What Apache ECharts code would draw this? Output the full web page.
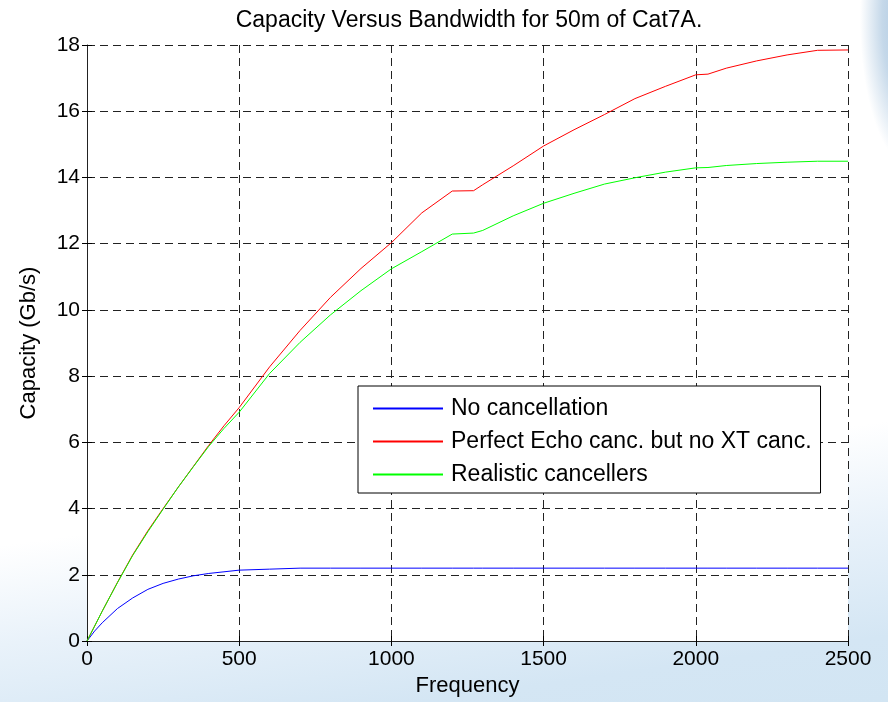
<!DOCTYPE html>
<html>
<head>
<meta charset="utf-8">
<script src="https://cdn.jsdelivr.net/npm/echarts@6/dist/echarts.min.js"></script>
<style>
html, body { margin:0; padding:0; width:888px; height:702px; overflow:hidden; }
body {
  background:
    radial-gradient(ellipse 55px 150px at 915px 20px, rgba(140,178,212,0.85) 0%, rgba(140,178,212,0.5) 60%, rgba(140,178,212,0) 100%),
    linear-gradient(172deg, #ffffff 0%, #ffffff 66%, #e9f2fa 78%, #d4e6f4 92%, #d2e5f3 100%);
}
#chart { width:888px; height:702px; }
</style>
</head>
<body>
<div id="chart"></div>
<script>
const titleText = 'Capacity Versus Bandwidth for 50m of Cat7A.';
const xName = 'Frequency';
const yName = 'Capacity (Gb/s)';
const seriesNames = ['No cancellation', 'Perfect Echo canc. but no XT canc.', 'Realistic cancellers'];
const seriesColors = ['#0000ff', '#ff0000', '#00ff00'];

const frequency = [0, 25, 50, 100, 150, 200, 250, 300, 350, 400, 450, 500, 600, 700, 800, 900, 1000, 1100, 1200, 1270, 1300, 1400, 1500, 1600, 1700, 1800, 1900, 2000, 2040, 2100, 2200, 2300, 2400, 2500];
const noCancel = [0, 0.30, 0.55, 0.98, 1.30, 1.56, 1.74, 1.87, 1.97, 2.04, 2.09, 2.14, 2.17, 2.20, 2.20, 2.20, 2.20, 2.20, 2.20, 2.20, 2.20, 2.20, 2.20, 2.20, 2.20, 2.20, 2.20, 2.20, 2.20, 2.20, 2.20, 2.20, 2.20, 2.20];
const perfectEcho = [0, 0.45, 0.90, 1.77, 2.60, 3.33, 4.00, 4.65, 5.28, 5.91, 6.50, 7.05, 8.28, 9.38, 10.38, 11.25, 12.03, 12.93, 13.59, 13.60, 13.78, 14.35, 14.95, 15.44, 15.90, 16.38, 16.75, 17.10, 17.12, 17.30, 17.52, 17.70, 17.84, 17.85];
const realistic = [0, 0.45, 0.90, 1.76, 2.58, 3.30, 3.98, 4.65, 5.27, 5.88, 6.42, 6.91, 8.08, 9.02, 9.85, 10.58, 11.24, 11.76, 12.29, 12.32, 12.40, 12.84, 13.22, 13.52, 13.80, 13.99, 14.16, 14.29, 14.30, 14.36, 14.42, 14.46, 14.49, 14.49];

const xTicks = { min: 0, max: 2500, interval: 500 };
const yTicks = { min: 0, max: 18, interval: 2 };

const FONT = 'Liberation Sans, Arial, Helvetica, sans-serif';
const valuesList = [noCancel, perfectEcho, realistic];

const chart = echarts.init(document.getElementById('chart'), null, { renderer: 'canvas' });

const gridLine = { show: true, lineStyle: { color: '#222', width: 1, type: [8, 5] } };
const plainNum = v => String(v);

const option = {
  backgroundColor: 'transparent',
  animation: false,
  title: {
    text: titleText,
    left: 464,
    textAlign: 'center',
    top: 4,
    textStyle: { fontFamily: FONT, fontSize: 23, fontWeight: 'normal', color: '#000' }
  },
  grid: { left: 87, right: 40, top: 45, bottom: 59, show: true, backgroundColor: '#fff', borderWidth: 0 },
  legend: {
    data: seriesNames.map((n, i) => ({ name: n, icon: 'rect', itemStyle: { color: seriesColors[i], borderWidth: 0 } })),
    orient: 'vertical',
    left: 358,
    top: 386,
    backgroundColor: '#fff',
    borderColor: '#000',
    borderWidth: 1,
    padding: [11, 9, 7, 15],
    itemWidth: 70,
    itemHeight: 2,
    itemGap: 10,
    textStyle: { fontFamily: FONT, fontSize: 23, color: '#000', padding: [0, 0, 0, 3] }
  },
  xAxis: [{
    type: 'value',
    min: xTicks.min, max: xTicks.max, interval: xTicks.interval,
    name: xName, nameLocation: 'middle', nameGap: 34,
    nameTextStyle: { fontFamily: FONT, fontSize: 22, color: '#000' },
    axisLine: { show: true, onZero: false, lineStyle: { color: '#222', width: 1 } },
    axisTick: { show: true, inside: true, length: 5, lineStyle: { color: '#000' } },
    axisLabel: { fontFamily: FONT, fontSize: 21, color: '#000', margin: 8, formatter: plainNum },
    splitLine: gridLine
  }, {
    type: 'value', position: 'top',
    min: xTicks.min, max: xTicks.max, interval: xTicks.interval,
    axisLine: { show: false },
    axisTick: { show: true, inside: true, length: 5, lineStyle: { color: '#000' } },
    axisLabel: { show: false },
    splitLine: { show: false }
  }],
  yAxis: [{
    type: 'value',
    min: yTicks.min, max: yTicks.max, interval: yTicks.interval,
    name: yName, nameLocation: 'middle', nameGap: 47,
    nameTextStyle: { fontFamily: FONT, fontSize: 22, color: '#000' },
    axisLine: { show: true, onZero: false, lineStyle: { color: '#222', width: 1 } },
    axisTick: { show: true, inside: true, length: 5, lineStyle: { color: '#000' } },
    axisLabel: { fontFamily: FONT, fontSize: 21, color: '#000', margin: 7, formatter: plainNum },
    splitLine: gridLine
  }, {
    type: 'value', position: 'right',
    min: yTicks.min, max: yTicks.max, interval: yTicks.interval,
    axisLine: { show: false },
    axisTick: { show: true, inside: true, length: 5, lineStyle: { color: '#000' } },
    axisLabel: { show: false },
    splitLine: { show: false }
  }],
  series: seriesNames.map((name, i) => ({
    name: name,
    type: 'line',
    xAxisIndex: 0,
    yAxisIndex: 0,
    data: frequency.map((f, k) => [f, valuesList[i][k]]),
    symbol: 'none',
    smooth: false,
    color: seriesColors[i],
    lineStyle: { color: seriesColors[i], width: 1 },
    z: 3 + i
  }))
};
chart.setOption(option);
</script>
</body>
</html>
